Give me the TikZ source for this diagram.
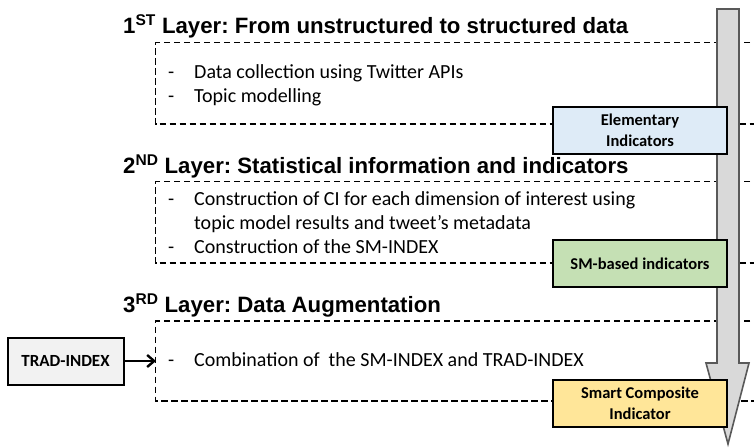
\documentclass[tikz,border=0pt]{standalone}
\usepackage{fontspec}
\setmainfont{Carlito}
\newfontfamily\titlefont{Liberation Sans}
\usetikzlibrary{arrows.meta}
\definecolor{bluefill}{HTML}{DEEBF7}
\definecolor{greenfill}{HTML}{C5E0B4}
\definecolor{yellowfill}{HTML}{FFE699}
\definecolor{grayfill}{HTML}{F2F2F2}
\definecolor{arrowfill}{HTML}{D9D9D9}
\definecolor{arrowline}{HTML}{595959}
\tikzset{
  layerbox/.style={draw=black, line width=1.8pt, dash pattern=on 6.5pt off 3.5pt},
  layertitle/.style={anchor=base west, inner sep=0pt, font=\titlefont\bfseries\fontsize{22.2}{24}\selectfont},
  bullettext/.style={anchor=base west, inner sep=0pt, font=\fontsize{20}{22}\selectfont},
  indbox/.style={draw=black, line width=2pt, minimum width=174pt, minimum height=47pt, inner sep=0pt, align=center, font=\bfseries\fontsize{16.5}{21}\selectfont},
}
\frenchspacing
\begin{document}
\begin{tikzpicture}[x=1pt,y=-1pt]
\useasboundingbox (0,0) rectangle (754,447);
\clip (0,0) rectangle (754,447);
% layer dashed boxes
\draw[layerbox] (760,42.5) -- (155.5,42.5) -- (155.5,124) -- (760,124);
\draw[layerbox] (760,181.5) -- (155.5,181.5) -- (155.5,263) -- (760,263);
\draw[layerbox] (760,321) -- (155.5,321) -- (155.5,401) -- (760,401);
% big arrow
\draw[draw=arrowline, fill=arrowfill, line width=1.6pt, line join=miter]
  (717,9) -- (739,9) -- (739,363) -- (749,363) -- (728,444) -- (706,363) -- (717,363) -- cycle;
% titles
\node[layertitle] (t1) at (123,33) {1\textsuperscript{ST} Layer: From unstructured to structured data};
\node[layertitle] (t2) at (123,173) {2\textsuperscript{ND} Layer: Statistical information and indicators};
\node[layertitle] (t3) at (123,312) {3\textsuperscript{RD} Layer: Data Augmentation};
% bullets layer 1
\node[bullettext] (d1a) at (168,78) {-};
\node[bullettext] (l1a) at (194,78) {Data collection using Twitter APIs};
\node[bullettext] (d1b) at (168,102) {-};
\node[bullettext] (l1b) at (194,102) {Topic modelling};
% bullets layer 2
\node[bullettext] (d2a) at (168,205) {-};
\node[bullettext] (l2a) at (194,205) {Construction of CI for each dimension of interest using};
\node[bullettext] (l2b) at (194,229) {topic model results and tweet’s metadata};
\node[bullettext] (d2c) at (168,253) {-};
\node[bullettext] (l2c) at (194,253) {Construction of the SM-INDEX};
% bullets layer 3
\node[bullettext] (d3a) at (168,366) {-};
\node[bullettext] (l3a) at (194,366) {Combination of\ \ the SM-INDEX and TRAD-INDEX};
% indicator boxes
\node[indbox, fill=bluefill] (elem) at (640,130) {Elementary\\Indicators};
\node[indbox, fill=greenfill] (smb) at (640,263.5) {SM-based indicators};
\node[indbox, fill=yellowfill] (sci) at (640,403.5) {Smart Composite\\Indicator};
% trad index
\node[draw=black, line width=2pt, fill=grayfill, minimum width=116pt, minimum height=47pt, inner sep=0pt, font=\bfseries\fontsize{17}{20}\selectfont] (trad) at (65.5,361) {TRAD-INDEX};
\coordinate (ent) at (156,361);
\draw[line width=2.4pt, -{Straight Barb[length=7pt,width=12pt]}] (trad.east) -- (ent);
\end{tikzpicture}
\end{document}
